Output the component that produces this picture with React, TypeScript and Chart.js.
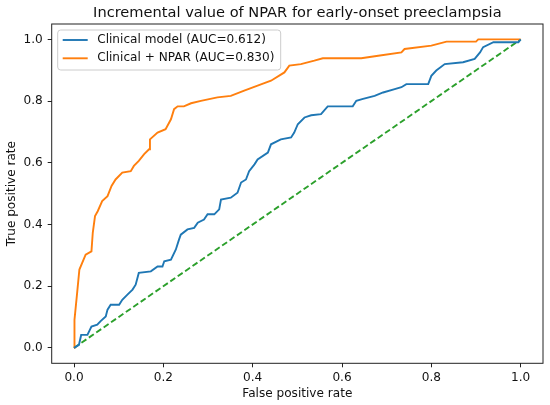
import React, { useEffect, useRef } from "react";
import { Chart, registerables } from "chart.js";

Chart.register(...registerables);

const TITLE = "Incremental value of NPAR for early-onset preeclampsia";
const X_LABEL = "False positive rate";
const Y_LABEL = "True positive rate";
const TICKS = [0, 0.2, 0.4, 0.6, 0.8, 1.0];

const clinicalLabel = "Clinical model (AUC=0.612)";
const clinicalFpr = [0, 0.011, 0.016, 0.03, 0.039, 0.052, 0.059, 0.071, 0.075, 0.082, 0.101, 0.108, 0.119, 0.131, 0.138, 0.145, 0.172, 0.187, 0.198, 0.202, 0.217, 0.228, 0.235, 0.239, 0.254, 0.269, 0.277, 0.291, 0.299, 0.314, 0.325, 0.329, 0.351, 0.366, 0.374, 0.385, 0.392, 0.404, 0.411, 0.434, 0.441, 0.463, 0.486, 0.493, 0.501, 0.516, 0.531, 0.553, 0.568, 0.624, 0.632, 0.647, 0.673, 0.692, 0.718, 0.733, 0.744, 0.793, 0.8, 0.811, 0.83, 0.871, 0.897, 0.909, 0.916, 0.939, 0.995, 1.0];
const clinicalTpr = [0, 0.01, 0.042, 0.042, 0.069, 0.075, 0.086, 0.102, 0.124, 0.14, 0.14, 0.156, 0.172, 0.189, 0.205, 0.243, 0.248, 0.264, 0.264, 0.281, 0.286, 0.319, 0.351, 0.367, 0.384, 0.389, 0.406, 0.416, 0.433, 0.433, 0.449, 0.481, 0.487, 0.503, 0.536, 0.546, 0.573, 0.595, 0.611, 0.633, 0.66, 0.676, 0.682, 0.698, 0.725, 0.747, 0.754, 0.758, 0.783, 0.783, 0.801, 0.807, 0.817, 0.828, 0.839, 0.845, 0.855, 0.855, 0.882, 0.899, 0.92, 0.926, 0.937, 0.958, 0.975, 0.991, 0.991, 1.0];

const npaLabel = "Clinical + NPAR (AUC=0.830)";
const npaFpr = [0, 0, 0.002, 0.007, 0.012, 0.026, 0.039, 0.042, 0.047, 0.053, 0.063, 0.075, 0.084, 0.093, 0.108, 0.127, 0.134, 0.145, 0.157, 0.168, 0.17, 0.187, 0.205, 0.217, 0.224, 0.232, 0.246, 0.262, 0.284, 0.321, 0.351, 0.381, 0.411, 0.441, 0.471, 0.482, 0.508, 0.538, 0.557, 0.643, 0.681, 0.733, 0.74, 0.8, 0.834, 0.9, 0.905, 1.0];
const npaTpr = [0, 0.05, 0.091, 0.179, 0.254, 0.302, 0.313, 0.374, 0.427, 0.443, 0.476, 0.492, 0.525, 0.546, 0.568, 0.573, 0.59, 0.606, 0.628, 0.644, 0.676, 0.698, 0.709, 0.741, 0.774, 0.783, 0.783, 0.793, 0.801, 0.812, 0.817, 0.834, 0.85, 0.866, 0.893, 0.915, 0.92, 0.931, 0.939, 0.939, 0.947, 0.958, 0.969, 0.98, 0.993, 0.993, 1.0, 1.0];

const chanceFpr = [0, 1];
const chanceTpr = [0, 1];

const FONT = "'DejaVu Sans', sans-serif";
const INK = "#111";

const toPoints = (xs: number[], ys: number[]) => xs.map((x, i) => ({ x, y: ys[i] }));

// title, full frame and the boxed legend, drawn like matplotlib does
const decorPlugin = {
    id: "decor",
    afterDatasetsDraw(chart: any) {
        const { ctx, chartArea: a } = chart;
        ctx.save();
        ctx.strokeStyle = "#222";
        ctx.lineWidth = 1;
        ctx.strokeRect(a.left, a.top, a.right - a.left, a.bottom - a.top);

        ctx.fillStyle = INK;
        ctx.font = `14.6px ${FONT}`;
        ctx.textAlign = "center";
        ctx.textBaseline = "alphabetic";
        ctx.fillText(TITLE, (a.left + a.right) / 2, a.top - 6.7);

        const x0 = a.left + 6, y0 = a.top + 6, w = 223, h = 40;
        ctx.beginPath();
        ctx.roundRect(x0, y0, w, h, 3);
        ctx.fillStyle = "rgba(255,255,255,0.8)";
        ctx.fill();
        ctx.strokeStyle = "#cccccc";
        ctx.lineWidth = 1;
        ctx.stroke();
        chart.data.datasets.slice(0, 2).forEach((ds: any, i: number) => {
            const y = y0 + 10 + i * 18.3;
            ctx.strokeStyle = ds.borderColor;
            ctx.lineWidth = 1.9;
            ctx.beginPath();
            ctx.moveTo(x0 + 5, y);
            ctx.lineTo(x0 + 30, y);
            ctx.stroke();
            ctx.fillStyle = INK;
            ctx.font = `12.1px ${FONT}`;
            ctx.textAlign = "left";
            ctx.textBaseline = "middle";
            ctx.fillText(ds.label, x0 + 39.5, y);
        });
        ctx.restore();
    },
};

export default function App() {
    const canvasRef = useRef<HTMLCanvasElement | null>(null);
    const chartRef = useRef<Chart | null>(null);

    useEffect(() => {
        document.body.style.margin = "0";
        const canvas = canvasRef.current;
        if (!canvas) return;
        if (chartRef.current) {
            chartRef.current.destroy();
            chartRef.current = null;
        }

        const tickFont = { family: FONT, size: 12.1 };
        const axisGrid = { drawOnChartArea: false, drawTicks: true, tickLength: 4, color: "#222" };

        chartRef.current = new Chart(canvas, {
            type: "line",
            data: {
                datasets: [
                    {
                        label: clinicalLabel,
                        data: toPoints(clinicalFpr, clinicalTpr),
                        borderColor: "#1f77b4",
                        borderWidth: 1.9,
                        pointRadius: 0,
                        tension: 0,
                    },
                    {
                        label: npaLabel,
                        data: toPoints(npaFpr, npaTpr),
                        borderColor: "#ff7f0e",
                        borderWidth: 1.9,
                        pointRadius: 0,
                        tension: 0,
                    },
                    {
                        label: "chance",
                        data: toPoints(chanceFpr, chanceTpr),
                        borderColor: "#2ca02c",
                        borderWidth: 1.9,
                        borderDash: [6, 3],
                        pointRadius: 0,
                        tension: 0,
                    },
                ],
            },
            options: {
                animation: false,
                responsive: true,
                maintainAspectRatio: false,
                layout: { padding: { top: 24, right: 7, left: 0, bottom: 0 } },
                plugins: {
                    legend: { display: false },
                    title: { display: false },
                    tooltip: { enabled: false },
                },
                scales: {
                    x: {
                        type: "linear",
                        min: -0.05,
                        max: 1.05,
                        afterBuildTicks: (s: any) => { s.ticks = TICKS.map((v) => ({ value: v })); },
                        afterFit: (s: any) => { s.height = 41.7; },
                        ticks: {
                            callback: (v: any) => Number(v).toFixed(1),
                            font: tickFont,
                            color: INK,
                            padding: 3,
                            maxRotation: 0,
                            autoSkip: false,
                        },
                        grid: axisGrid,
                        border: { display: false },
                        title: { display: true, text: X_LABEL, font: tickFont, color: INK, padding: { top: 0, bottom: 3.5 } },
                    },
                    y: {
                        type: "linear",
                        min: -0.05,
                        max: 1.05,
                        afterBuildTicks: (s: any) => { s.ticks = TICKS.map((v) => ({ value: v })); },
                        afterFit: (s: any) => { s.width = 51.7; },
                        ticks: {
                            callback: (v: any) => Number(v).toFixed(1),
                            font: tickFont,
                            color: INK,
                            padding: 5,
                            autoSkip: false,
                        },
                        grid: axisGrid,
                        border: { display: false },
                        title: { display: true, text: Y_LABEL, font: tickFont, color: INK, padding: { top: 4.8, bottom: 0 } },
                    },
                },
            } as any,
            plugins: [decorPlugin],
        });

        return () => {
            if (chartRef.current) {
                chartRef.current.destroy();
                chartRef.current = null;
            }
        };
    }, []);

    return (
        <div style={{ position: "relative", width: "550px", height: "405px", background: "#fff" }}>
            <canvas ref={canvasRef} />
        </div>
    );
}
